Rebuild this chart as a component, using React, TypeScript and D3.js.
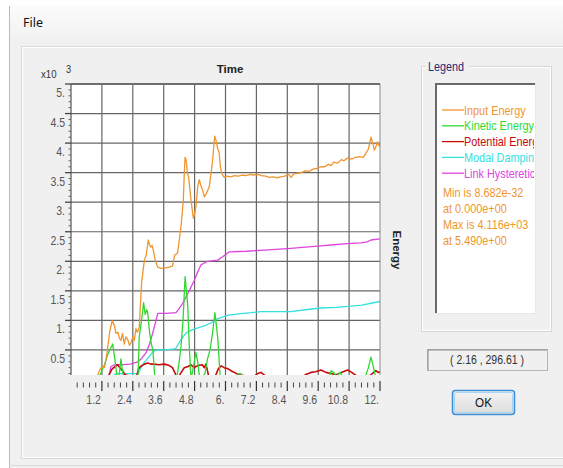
import React from "react";
import * as d3 from "d3";

// time (s), energy (x10^3)
const inputEnergy: [number, number][] = [
  [0, 0], [1.0, 0.02], [1.1, 0.15], [1.2, 0.22], [1.3, 0.2], [1.4, 0.45], [1.5, 0.8], [1.6, 1.0], [1.68, 0.92],
  [1.75, 0.78], [1.82, 0.8], [1.88, 0.7], [1.94, 0.66], [2.0, 0.78], [2.07, 0.6], [2.13, 0.72], [2.2, 0.68],
  [2.27, 0.58], [2.33, 0.62], [2.4, 0.72], [2.46, 0.66], [2.52, 0.86], [2.58, 0.8], [2.65, 0.88], [2.74, 1.63],
  [2.85, 2.02], [2.92, 2.1], [3.0, 2.36], [3.05, 2.28], [3.1, 2.24], [3.15, 2.27], [3.2, 2.18], [3.28, 2.0],
  [3.37, 1.9], [3.5, 1.88], [3.62, 1.88], [3.8, 1.9], [3.94, 1.92], [4.02, 2.1], [4.14, 2.14], [4.27, 2.58],
  [4.36, 3.02], [4.4, 3.5], [4.43, 3.76], [4.47, 3.72], [4.52, 3.5], [4.57, 3.42], [4.62, 3.2], [4.66, 3.04],
  [4.75, 2.73], [4.8, 2.8], [4.86, 2.95], [4.92, 3.26], [4.98, 3.38], [5.03, 3.3], [5.1, 3.22], [5.18, 3.09],
  [5.26, 3.15], [5.37, 3.26], [5.44, 3.5], [5.5, 3.71], [5.58, 4.116], [5.63, 4.05], [5.7, 3.9], [5.75, 3.85],
  [5.8, 3.6], [5.85, 3.49], [5.95, 3.42], [6.05, 3.44], [6.2, 3.43], [6.35, 3.45], [6.5, 3.44], [6.65, 3.46],
  [6.8, 3.45], [6.95, 3.47], [7.1, 3.46], [7.25, 3.47], [7.4, 3.45], [7.55, 3.44], [7.7, 3.42], [7.85, 3.43],
  [8.0, 3.41], [8.15, 3.43], [8.3, 3.44], [8.45, 3.47], [8.55, 3.42], [8.65, 3.48], [8.8, 3.49], [8.95, 3.5],
  [9.1, 3.53], [9.25, 3.52], [9.4, 3.56], [9.55, 3.57], [9.7, 3.6], [9.85, 3.6], [10.0, 3.64], [10.1, 3.62],
  [10.2, 3.68], [10.35, 3.66], [10.5, 3.72], [10.6, 3.7], [10.75, 3.75], [10.9, 3.73], [11.05, 3.76],
  [11.2, 3.77], [11.35, 3.76], [11.45, 3.83], [11.55, 3.9], [11.65, 4.1], [11.72, 4.0], [11.78, 3.88],
  [11.85, 3.95], [11.9, 4.02], [11.96, 3.95], [12, 3.98],
];

const kineticEnergy: [number, number][] = [
  [0, 0], [1.05, 0], [1.15, 0.1], [1.3, 0.25], [1.45, 0.45], [1.62, 0.6], [1.7, 0.35], [1.8, 0], [1.88, 0.1],
  [1.94, 0.35], [2.0, 0.15], [2.07, 0], [2.2, 0.05], [2.35, 0], [2.6, 0], [2.65, 0.72], [2.74, 1.0],
  [2.82, 1.3], [2.88, 1.1], [2.94, 1.18], [2.98, 1.12], [3.05, 0.8], [3.12, 0.6], [3.18, 0.5], [3.26, 0],
  [4.1, 0], [4.2, 0.3], [4.27, 0.55], [4.35, 1.0], [4.43, 1.74], [4.48, 1.5], [4.53, 1.28], [4.6, 0.5],
  [4.66, 0], [4.75, 0.2], [4.85, 0.46], [4.92, 0.3], [5.0, 0], [5.2, 0.1], [5.3, 0.35], [5.4, 0.5],
  [5.5, 0.8], [5.59, 1.13], [5.65, 0.9], [5.7, 0.7], [5.8, 0], [6.4, 0], [6.5, 0.1], [6.6, 0.1], [6.7, 0],
  [10.0, 0], [10.1, 0.15], [10.2, 0.12], [10.3, 0.05], [10.45, 0.12], [10.55, 0.05], [11.4, 0],
  [11.55, 0.2], [11.65, 0.38], [11.75, 0.2], [11.85, 0], [12, 0],
];

const potentialEnergy: [number, number][] = [
  [0, 0], [1.4, 0], [1.5, 0.1], [1.6, 0.18], [1.72, 0.22], [1.81, 0.25], [1.9, 0.2], [2.0, 0.15], [2.1, 0.08],
  [2.3, 0.05], [2.55, 0.06], [2.62, 0.18], [2.7, 0.22], [2.85, 0.26], [2.98, 0.28], [3.1, 0.26],
  [3.24, 0.26], [3.4, 0.25], [3.62, 0.26], [3.8, 0.24], [3.94, 0.2], [4.05, 0.1], [4.14, 0], [4.25, 0.1],
  [4.4, 0.2], [4.55, 0.22], [4.66, 0.25], [4.78, 0.2], [4.85, 0.22], [4.98, 0.24], [5.1, 0.25], [5.18, 0.2],
  [5.24, 0.26], [5.3, 0.15], [5.37, 0], [5.6, 0.05], [5.72, 0.18], [5.83, 0.23], [5.95, 0.2], [6.1, 0.18],
  [6.25, 0.14], [6.35, 0.12], [6.5, 0.08], [6.8, 0.06], [7.1, 0.05], [7.25, 0.1], [7.38, 0.12], [7.5, 0.08],
  [7.7, 0], [8.9, 0], [9.1, 0.08], [9.32, 0.12], [9.5, 0.13], [9.71, 0.16], [9.9, 0.12], [10.1, 0.1],
  [10.3, 0.08], [10.5, 0.12], [10.74, 0.16], [10.9, 0.12], [11.1, 0.06], [11.4, 0.03], [11.6, 0.06],
  [11.75, 0.12], [11.84, 0.15], [11.92, 0.12], [12, 0.13],
];

const modalDamping: [number, number][] = [
  [0, 0], [1.6, 0], [1.67, 0.08], [1.8, 0.1], [2.0, 0.1], [2.3, 0.1], [2.6, 0.1], [2.7, 0.18], [2.78, 0.25],
  [2.9, 0.32], [3.03, 0.38], [3.12, 0.44], [3.22, 0.48], [3.35, 0.5], [3.6, 0.5], [3.85, 0.51], [4.06, 0.52],
  [4.17, 0.6], [4.27, 0.67], [4.4, 0.75], [4.53, 0.81], [4.7, 0.84], [4.9, 0.87], [5.05, 0.89], [5.25, 0.92],
  [5.45, 0.96], [5.56, 0.99], [5.7, 1.03], [5.85, 1.05], [6.1, 1.09], [6.5, 1.11], [7.0, 1.13], [7.38, 1.15],
  [8.0, 1.15], [8.54, 1.15], [9.1, 1.18], [9.71, 1.21], [10.3, 1.22], [10.87, 1.24], [11.3, 1.26],
  [11.65, 1.29], [12, 1.32],
];

const linkHysteretic: [number, number][] = [
  [0, 0], [1.45, 0], [1.55, 0.22], [1.7, 0.25], [2.0, 0.25], [2.3, 0.26], [2.6, 0.3], [2.75, 0.36],
  [2.91, 0.45], [3.05, 0.6], [3.17, 0.78], [3.27, 0.95], [3.37, 1.12], [3.7, 1.12], [4.08, 1.13], [4.2, 1.2],
  [4.34, 1.29], [4.47, 1.4], [4.6, 1.51], [4.7, 1.6], [4.79, 1.68], [4.92, 1.82], [5.05, 1.94], [5.3, 2.0],
  [5.7, 2.02], [5.9, 2.08], [6.15, 2.16], [6.8, 2.17], [7.5, 2.19], [8.54, 2.22], [9.1, 2.24], [9.7, 2.26],
  [10.2, 2.28], [10.74, 2.3], [11.26, 2.31], [11.5, 2.33], [11.65, 2.36], [12, 2.38],
];

const seriesNames = ["Input Energy", "Kinetic Energy", "Potential Energy", "Modal Damping", "Link Hysteretic"];
const seriesColors = ["#f0962e", "#2fd82f", "#c80a0a", "#35e0e0", "#dd44e0"];
const seriesData = [inputEnergy, kineticEnergy, potentialEnergy, modalDamping, linkHysteretic];

const xTickLabels = ["1.2", "2.4", "3.6", "4.8", "6.", "7.2", "8.4", "9.6", "10.8", "12."];
const yTickLabels = ["0.5", "1.", "1.5", "2.", "2.5", "3.", "3.5", "4.", "4.5", "5."];
const statLines = ["Min is 8.682e-32", "at 0.000e+00", "Max is 4.116e+03", "at 5.490e+00"];

const sans = "'Liberation Sans', Arial, sans-serif";

// the original uses a condensed face; squeeze Liberation Sans horizontally
function NText({
  x,
  y,
  children,
  anchor = "start",
  size = 12.5,
  fill = "#555",
  squeeze = 0.84,
}: {
  x: number;
  y: number;
  children: React.ReactNode;
  anchor?: "start" | "middle" | "end";
  size?: number;
  fill?: string;
  squeeze?: number;
}) {
  return (
    <text
      transform={`translate(${x},${y}) scale(${squeeze},1)`}
      textAnchor={anchor}
      fontFamily={sans}
      fontSize={size}
      fill={fill}
    >
      {children}
    </text>
  );
}

export default function App() {
  const W = 563;
  const H = 468;
  const plot = { left: 71, right: 380, top: 84, bottom: 375 };

  const x = d3.scaleLinear().domain([0, 12]).range([plot.left, plot.right]);
  const y = d3.scaleLinear().domain([0.076, 5]).range([plot.bottom, plot.top]);

  const line = d3
    .line<[number, number]>()
    .x((d) => x(d[0]))
    .y((d) => y(d[1]));

  const xMajor = d3.range(1, 11).map((i) => +(i * 1.2).toFixed(2));
  const xMinor = d3.range(1, 50).map((i) => +(i * 0.24).toFixed(2)).filter((t) => !xMajor.includes(t));
  const yMajor = d3.range(1, 11).map((i) => i * 0.5);
  const yMinor = d3.range(1, 50).map((i) => +(i * 0.1).toFixed(1)).filter((v) => v % 0.5 !== 0);

  return (
    <div style={{ position: "fixed", left: 0, top: 0, width: W, height: H }}>
      <svg width={W} height={H} viewBox={`0 0 ${W} ${H}`} style={{ display: "block" }}>
        <defs>
          <linearGradient id="menuGrad" x1="0" y1="0" x2="0" y2="1">
            <stop offset="0" stopColor="#fbfbfb" />
            <stop offset="1" stopColor="#f2f2f2" />
          </linearGradient>
          <linearGradient id="topEdge" x1="0" y1="0" x2="1" y2="0">
            <stop offset="0" stopColor="#9a9a9a" />
            <stop offset="0.5" stopColor="#6a6060" />
            <stop offset="1" stopColor="#7a6a6a" />
          </linearGradient>
          <linearGradient id="btnGrad" x1="0" y1="0" x2="0" y2="1">
            <stop offset="0" stopColor="#f4f4f4" />
            <stop offset="1" stopColor="#dcdcdc" />
          </linearGradient>
          <clipPath id="plotClip">
            <rect x={plot.left} y={plot.top} width={plot.right - plot.left} height={plot.bottom - plot.top} />
          </clipPath>
          <clipPath id="legendClip">
            <rect x={437} y={85} width={97} height={226} />
          </clipPath>
        </defs>

        {/* window */}
        <rect x={0} y={0} width={W} height={H} fill="#ffffff" />
        <rect x={9} y={6} width={W - 9} height={H - 6} fill="#f0f0f0" />
        <rect x={9} y={6} width={W - 9} height={32} fill="url(#menuGrad)" />
        <line x1={9} x2={W} y1={6} y2={6} stroke="url(#topEdge)" strokeWidth={2} />
        <line x1={9.5} x2={9.5} y1={6} y2={H} stroke="#b8b8b8" />
        <text x={23} y={27} fontFamily="'Noto Sans', 'Open Sans', sans-serif" fontSize={12.5} fill="#111">
          File
        </text>
        <rect x={21.5} y={46.5} width={W} height={412} fill="#f0f0f0" stroke="#d8d8d8" />
        <rect x={22.5} y={47.5} width={W} height={410} fill="none" stroke="#ffffff" />
        <line x1={9} x2={W} y1={465.5} y2={465.5} stroke="#dadada" />

        {/* plot area */}
        <rect x={plot.left} y={plot.top} width={plot.right - plot.left} height={plot.bottom - plot.top} fill="#fff" />
        {xMajor.slice(0, -1).map((t) => (
          <line key={`gx${t}`} x1={x(t)} x2={x(t)} y1={plot.top} y2={plot.bottom} stroke="#666" strokeWidth={1.2} />
        ))}
        {yMajor.slice(0, -1).map((v) => (
          <line key={`gy${v}`} x1={plot.left} x2={plot.right} y1={y(v)} y2={y(v)} stroke="#666" strokeWidth={1.2} />
        ))}

        <g clipPath="url(#plotClip)" fill="none" strokeWidth={1.3} strokeLinejoin="round">
          {[4, 3, 2, 1, 0].map((i) => (
            <path key={i} d={line(seriesData[i]) ?? ""} stroke={seriesColors[i]} strokeWidth={i === 2 ? 1.6 : 1.3} />
          ))}
        </g>

        <line x1={plot.left} x2={plot.right} y1={plot.top} y2={plot.top} stroke="#6e6e6e" strokeWidth={2.2} />
        <line x1={plot.right} x2={plot.right} y1={plot.top} y2={plot.bottom} stroke="#8a8a8a" strokeWidth={1} />
        <line x1={plot.left} x2={plot.left} y1={plot.top} y2={plot.bottom} stroke="#555" strokeWidth={1.2} />

        {/* y axis */}
        {yMinor.map((v) => (
          <line key={`ym${v}`} x1={plot.left - 2.5} x2={plot.left} y1={y(v)} y2={y(v)} stroke="#666" strokeWidth={1} />
        ))}
        {yMajor.map((v, i) => (
          <g key={`yM${v}`}>
            <line x1={plot.left - 6} x2={plot.left} y1={y(v)} y2={y(v)} stroke="#444" strokeWidth={1.3} />
            <NText x={plot.left - 6} y={y(v) + 13} anchor="end">
              {yTickLabels[i]}
            </NText>
          </g>
        ))}
        <NText x={41} y={78} size={11.5} fill="#333">
          x10
        </NText>
        <NText x={66} y={73} size={11} fill="#333">
          3
        </NText>

        {/* x axis */}
        {xMinor.map((t) => (
          <line key={`xm${t}`} x1={x(t)} x2={x(t)} y1={382.5} y2={387.5} stroke="#444" strokeWidth={1} />
        ))}
        {xMajor.map((t) => (
          <line key={`xM${t}`} x1={x(t)} x2={x(t)} y1={381} y2={391} stroke="#333" strokeWidth={1.2} />
        ))}
        {xTickLabels.map((s, i) => (
          <NText key={`xl${s}`} x={x((i + 1) * 1.2) - 1} y={404} anchor="end">
            {s}
          </NText>
        ))}

        <text x={230} y={73} textAnchor="middle" fontFamily={sans} fontSize={11.5} fontWeight="bold" fill="#222">
          Time
        </text>
        <text
          transform="translate(393,250) rotate(90)"
          textAnchor="middle"
          fontFamily={sans}
          fontSize={11.5}
          fontWeight="bold"
          fill="#222"
        >
          Energy
        </text>

        {/* legend group */}
        <path d="M426,66.5 H421.5 V331.5 H551.5 V66.5 H470" fill="none" stroke="#d6d6d6" />
        <path d="M427,67.5 H422.5 V330.5 H550.5 V67.5 H470" fill="none" stroke="#ffffff" />
        <NText x={428} y={71} size={12} fill="#1c2a78" squeeze={0.9}>
          Legend
        </NText>
        <rect x={435} y={83} width={100} height={230} fill="#ffffff" />
        <path d="M436,313 V84 H535" fill="none" stroke="#6a6a6a" strokeWidth={2} />
        <path d="M435.5,313.5 H535.5 V83" fill="none" stroke="#e8e8e8" />
        <g clipPath="url(#legendClip)">
          {seriesNames.map((name, i) => {
            const ly = 110 + i * 15.8;
            return (
              <g key={name}>
                <line x1={442} x2={464} y1={ly} y2={ly} stroke={seriesColors[i]} strokeWidth={1.3} />
                <NText x={464} y={ly + 4.5} fill={seriesColors[i]} squeeze={0.87}>
                  {name}
                </NText>
              </g>
            );
          })}
          {statLines.map((s, i) => (
            <NText key={s} x={443} y={197 + i * 16} fill={seriesColors[0]} squeeze={0.87}>
              {s}
            </NText>
          ))}
        </g>

        {/* coordinate readout */}
        <rect x={427.5} y={349.5} width={120} height={21} fill="#f0f0f0" stroke="#b4b4b4" />
        <path d="M428,370 V350 H547" fill="none" stroke="#8c8c8c" />
        <NText x={487} y={364} anchor="middle" fill="#333">
          ( 2.16 , 296.61 )
        </NText>

        {/* OK button */}
        <rect x={452.5} y={390.5} width={62} height={24} rx={3} fill="url(#btnGrad)" stroke="#3d8ed6" strokeWidth={1.5} />
        <rect x={454.5} y={392.5} width={58} height={20} rx={2} fill="none" stroke="#a9d4f5" strokeWidth={1} />
        <NText x={483.5} y={407} anchor="middle" size={13} fill="#111" squeeze={0.9}>
          OK
        </NText>
      </svg>
    </div>
  );
}
